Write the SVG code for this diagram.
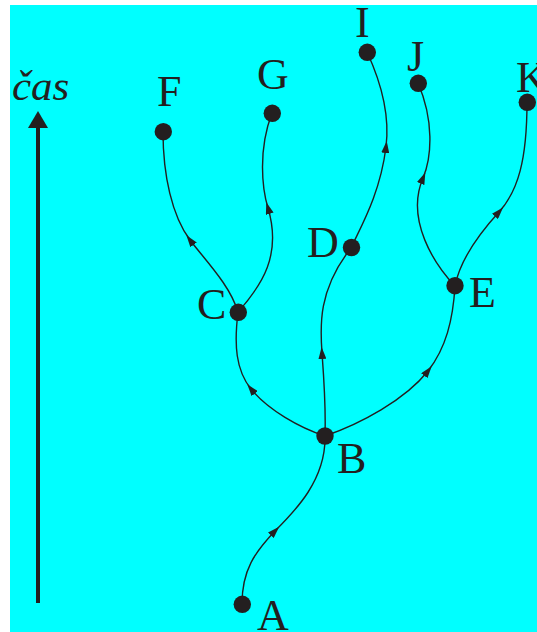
<svg xmlns="http://www.w3.org/2000/svg" width="537" height="632" viewBox="0 0 537 632">
<style>
.edge{fill:none;stroke:#231F20;stroke-width:1.4;marker-mid:url(#arr)}
.node circle{fill:#231F20}
.lbl{font-family:"Liberation Serif","Times New Roman",serif;font-size:44px;fill:#231F20}
</style>
<defs>
<marker id="arr" viewBox="0 0 12 8" markerUnits="userSpaceOnUse" markerWidth="12" markerHeight="8" refX="6" refY="4" orient="auto">
<path d="M0,0 L12,4 L0,8 z" fill="#231F20"/>
</marker>
</defs>
<rect x="10" y="5" width="527" height="627" fill="#00FFFF"/>
<g id="time-axis">
<line x1="38" y1="603" x2="38" y2="126" stroke="#231F20" stroke-width="4"/>
<path d="M38,111 L48,128 L28,128 z" fill="#231F20"/>
<text x="12" y="100" font-family="Liberation Serif, Times New Roman, serif" font-style="italic" font-size="43" fill="#231F20">čas</text>
</g>
<g id="connectors">
<path class="edge" d="M242,604 C242,570 255,552 275,531 C295,511 326,480 325,436"/>
<path class="edge" d="M325,436 C300,428 268,410 251,389 C235.7,370 234,345 238,312"/>
<path class="edge" d="M325,436 C326,405 324,380 322,353 C320,326 318,290 351,248"/>
<path class="edge" d="M325,436 C360,424 405,400 428,371 C446,348 453,320 455,286"/>
<path class="edge" d="M238,312 C230,285 205,260 190,240 C172,216 163,175 163,132"/>
<path class="edge" d="M238,312 C262,285 282,255 268,208 C262,188 258,150 272,113"/>
<path class="edge" d="M351,248 C360,228 380,195 386,147 C390,115 380,80 367,52"/>
<path class="edge" d="M455,286 C435,265 405,220 423,178 C432,157 434,120 418,83"/>
<path class="edge" d="M455,286 C460,260 478,235 499,212 C518,191 527,160 527,102"/>
</g>
<g id="node-A" class="node"><circle cx="242.3" cy="604.3" r="8.7"/><text class="lbl" x="257" y="630">A</text></g>
<g id="node-B" class="node"><circle cx="325" cy="436" r="8.7"/><text class="lbl" x="337" y="473">B</text></g>
<g id="node-C" class="node"><circle cx="238.3" cy="312.3" r="8.7"/><text class="lbl" x="197" y="319">C</text></g>
<g id="node-D" class="node"><circle cx="351.5" cy="247.5" r="8.7"/><text class="lbl" x="307" y="257">D</text></g>
<g id="node-E" class="node"><circle cx="455" cy="285.7" r="8.7"/><text class="lbl" x="469" y="307">E</text></g>
<g id="node-F" class="node"><circle cx="163.3" cy="131.7" r="8.7"/><text class="lbl" x="157" y="106">F</text></g>
<g id="node-G" class="node"><circle cx="272.3" cy="113.3" r="8.7"/><text class="lbl" x="257" y="89">G</text></g>
<g id="node-I" class="node"><circle cx="367.3" cy="52.3" r="8.7"/><text class="lbl" x="355" y="37">I</text></g>
<g id="node-J" class="node"><circle cx="418.3" cy="83.3" r="8.7"/><text class="lbl" x="407" y="71">J</text></g>
<g id="node-K" class="node"><circle cx="527.3" cy="102.3" r="8.7"/><text class="lbl" x="516" y="92">K</text></g>
</svg>
